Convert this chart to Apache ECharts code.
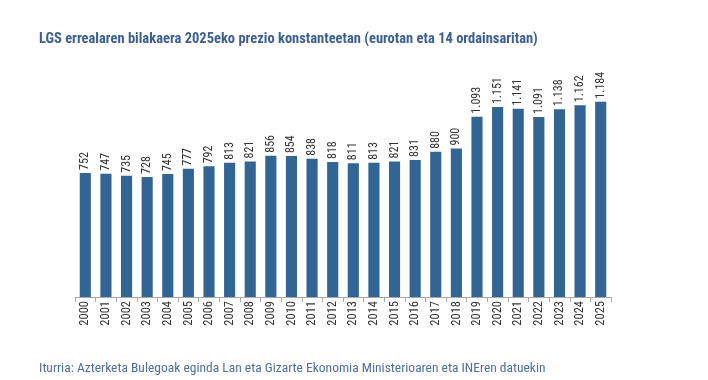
<!DOCTYPE html>
<html><head><meta charset="utf-8">
<script src="https://cdn.jsdelivr.net/npm/echarts@6/dist/echarts.min.js"></script>
<style>html,body{margin:0;padding:0;background:#fff}#c{width:708px;height:380px}</style>
</head><body><div id="c"></div>
<script>
const years = ['2000','2001','2002','2003','2004','2005','2006','2007','2008','2009','2010','2011','2012','2013','2014','2015','2016','2017','2018','2019','2020','2021','2022','2023','2024','2025'];
const values = [752,747,735,728,745,777,792,813,821,856,854,838,818,811,813,821,831,880,900,1093,1151,1141,1091,1138,1162,1184];
const titleText = 'LGS errealaren bilakaera 2025eko prezio konstanteetan (eurotan eta 14 ordainsaritan)';
const sourceText = 'Iturria: Azterketa Bulegoak eginda Lan eta Gizarte Ekonomia Ministerioaren eta INEren datuekin';
const FONT = '"Liberation Sans Narrow", "Roboto Condensed", Roboto, sans-serif';
const fmt = v => v >= 1000 ? Math.floor(v/1000) + '.' + String(v%1000).padStart(3,'0') : String(v);
const chart = echarts.init(document.getElementById('c'));
chart.setOption({
  animation: false,
  title: [
    {text: titleText, left: 34, top: 27, textStyle: {fontFamily: FONT, fontSize: 14.5, fontWeight: 'bold', color: '#3b5f93'}},
    {text: sourceText, left: 34, top: 357, textStyle: {fontFamily: FONT, fontSize: 13.5, fontWeight: 'normal', color: '#4d6f9e'}}
  ],
  grid: {left: 75, right: 97, top: 66, bottom: 83},
  xAxis: {
    type: 'category', data: years,
    axisLine: {lineStyle: {color: '#a8a8a8'}},
    axisTick: {show: true, alignWithLabel: false, length: 5, lineStyle: {color: '#a8a8a8'}},
    axisLabel: {rotate: 90, fontFamily: FONT, fontSize: 12.5, color: '#333', margin: 4, interval: 0}
  },
  yAxis: {type: 'value', min: 0, max: 1400, show: false, splitLine: {show: false}},
  series: [{
    type: 'bar', data: values, barWidth: '54%',
    itemStyle: {color: '#336594'},
    label: {show: true, position: 'top', rotate: 90, align: 'left', verticalAlign: 'middle', distance: 3,
      fontFamily: FONT, fontSize: 12, color: '#333', formatter: p => fmt(p.value)}
  }]
});
</script></body></html>
